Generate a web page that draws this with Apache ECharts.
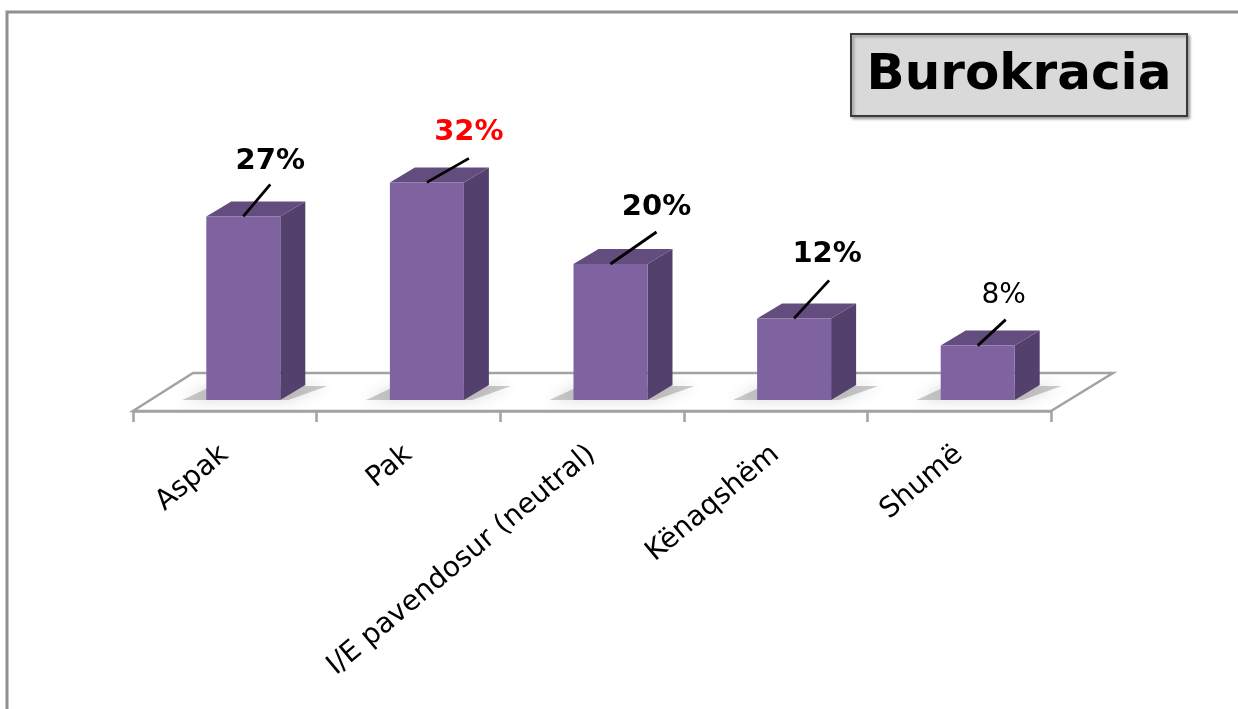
<!DOCTYPE html>
<html><head><meta charset="utf-8">
<script src="https://cdn.jsdelivr.net/npm/echarts/dist/echarts.min.js"></script>
<style>html,body{margin:0;padding:0;background:#fff;overflow:hidden}#chart{width:1238px;height:709px}</style>
</head><body><div id="chart"></div>
<script>
// ---- data ----
const titleText = 'Burokracia';
const categories = ['Aspak', 'Pak', 'I/E pavendosur (neutral)', 'Kënaqshëm', 'Shumë'];
const values = [27, 32, 20, 12, 8];
const valueLabels = ['27%', '32%', '20%', '12%', '8%'];

// ---- presentation (styles / label placement) ----
const labelColors = ['#000000', '#ff0000', '#000000', '#000000', '#000000'];
const labelWeights = ['bold', 'bold', 'bold', 'bold', 'normal'];
const leaderEnds = [[27, -32], [42, -24], [46, -32], [35, -38], [28, -26]];
const labelCenters = [[27, -55], [42, -50], [46, -57], [33, -64], [26, -50]];

const SHIFT = 18.5, HALF = 37, DX = 25, DY = -15;
const FRONT = '#7f63a1', SIDE = '#53406c', TOP = '#624d7e';

const chart = echarts.init(document.getElementById('chart'), null, {renderer: 'canvas'});

function renderFloor(params, api) {
  const cs = params.coordSys;
  const yf = cs.y + cs.height + 11, yb = cs.y + cs.height - 27;
  const xl = cs.x, xr = cs.x + cs.width;
  return {
    type: 'polygon',
    shape: {points: [[xl, yf], [xr, yf], [xr + 62, yb], [xl + 60, yb]]},
    style: {fill: '#ffffff', stroke: '#a3a3a3', lineWidth: 2.5}
  };
}

function renderBar(params, api) {
  const i = api.value(0), v = api.value(1);
  const top = api.coord([i, v]);
  const base = api.coord([i, 0]);
  const cx = top[0] + SHIFT;
  const x0 = cx - HALF, x1 = cx + HALF, yt = top[1], yb = base[1];
  const idx = params.dataIndex;
  const le = leaderEnds[idx], lc = labelCenters[idx];
  return {
    type: 'group',
    children: [
      {type: 'polygon', shape: {points: [[x0 - 24, yb], [x1 + 8, yb], [x1 + DX + 22, yb - 14], [x0 + 6, yb - 14]]},
       style: {fill: 'rgba(95,95,95,0.32)', shadowBlur: 14, shadowColor: 'rgba(95,95,95,0.75)'}},
      {type: 'polygon', shape: {points: [[x1, yt], [x1 + DX, yt + DY], [x1 + DX, yb + DY], [x1, yb]]},
       style: {fill: SIDE}},
      {type: 'polygon', shape: {points: [[x0, yt], [x0 + DX, yt + DY], [x1 + DX, yt + DY], [x1, yt]]},
       style: {fill: TOP}},
      {type: 'rect', shape: {x: x0, y: yt, width: x1 - x0, height: yb - yt},
       style: {fill: FRONT}},
      {type: 'line', shape: {x1: cx, y1: yt, x2: cx + le[0], y2: yt + le[1]},
       style: {stroke: '#000000', lineWidth: 2.8}},
      {type: 'text', x: cx + lc[0], y: yt + lc[1],
       style: {text: valueLabels[idx], align: 'center', verticalAlign: 'middle',
               fill: labelColors[idx], fontFamily: 'DejaVu Sans', fontSize: labelWeights[idx] === 'bold' ? 29 : 28,
               fontWeight: labelWeights[idx]}}
    ]
  };
}

const option = {
  backgroundColor: '#ffffff',
  animation: false,
  grid: {left: 133, right: 187, top: 128, bottom: 309, containLabel: false},
  xAxis: {
    type: 'category',
    data: categories,
    offset: 11,
    z: 5,
    axisLine: {show: true, onZero: false, lineStyle: {color: '#a3a3a3', width: 2.5}},
    axisTick: {show: true, length: 11, interval: 0, lineStyle: {color: '#a3a3a3', width: 2.5}},
    axisLabel: {interval: 0, rotate: 40, margin: 40, color: '#000000',
                fontFamily: 'DejaVu Sans', fontSize: 28},
    splitLine: {show: false}
  },
  yAxis: {type: 'value', min: 0, max: 40, show: false},
  graphic: [
    {type: 'rect', z: -10, shape: {x: 7, y: 12, width: 1400, height: 900},
     style: {fill: 'none', stroke: '#8f8f8f', lineWidth: 3}},
    {type: 'rect', z: 10, shape: {x: 851, y: 34, width: 336, height: 82},
     style: {fill: '#d9d9d9', stroke: '#3a3a3a', lineWidth: 2,
             shadowBlur: 3, shadowOffsetX: 2, shadowOffsetY: 2, shadowColor: 'rgba(0,0,0,0.35)'}},
    {type: 'text', z: 11, x: 1019, y: 76,
     style: {text: titleText, align: 'center', verticalAlign: 'middle', fill: '#000000',
             fontFamily: 'DejaVu Sans', fontWeight: 'bold', fontSize: 50}}
  ],
  series: [
    {type: 'custom', name: 'floor', z: 1, silent: true, clip: false,
     data: [[0, 0]], renderItem: renderFloor},
    {type: 'custom', name: titleText, z: 2, clip: false,
     encode: {x: 0, y: 1},
     data: values.map((v, i) => [i, v]), renderItem: renderBar}
  ]
};
chart.setOption(option);
</script>
</body></html>
